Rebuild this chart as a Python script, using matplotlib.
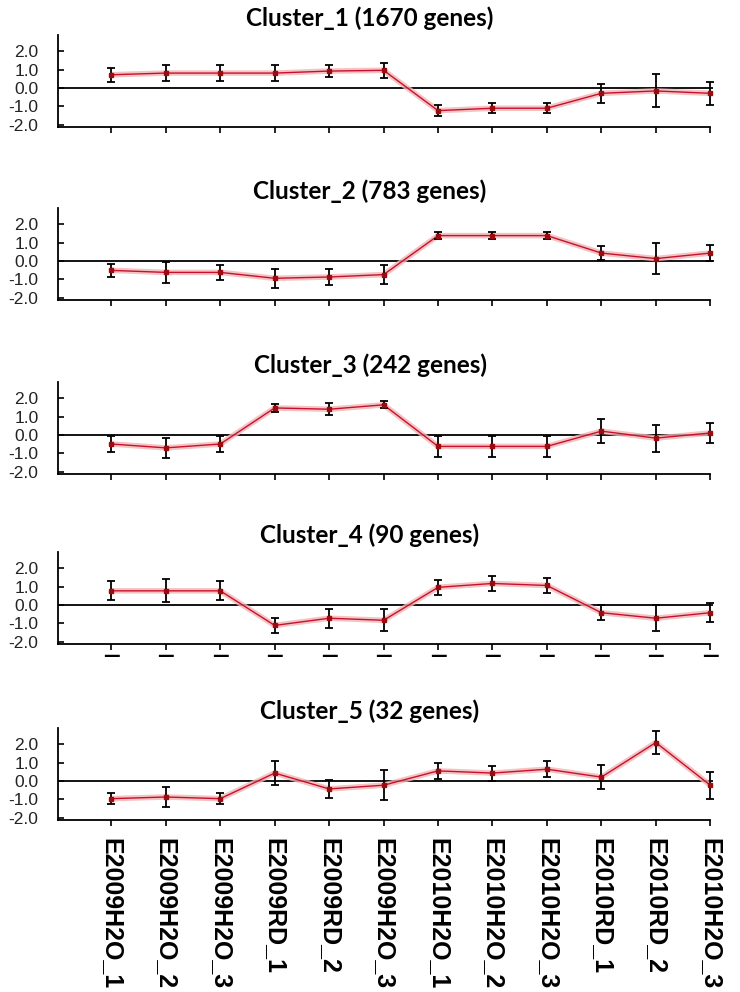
import matplotlib
matplotlib.use("Agg")
import matplotlib.pyplot as plt
import numpy as np

samples = ['E2009H2O_1', 'E2009H2O_2', 'E2009H2O_3', 'E2009RD_1', 'E2009RD_2', 'E2009H2O_3',
           'E2010H2O_1', 'E2010H2O_2', 'E2010H2O_3', 'E2010RD_1', 'E2010RD_2', 'E2010H2O_3']

titles = ['Cluster_1 (1670 genes)', 'Cluster_2 (783 genes)', 'Cluster_3 (242 genes)',
          'Cluster_4 (90 genes)', 'Cluster_5 (32 genes)']

c1_mean = [0.72, 0.81, 0.81, 0.81, 0.92, 0.96, -1.23, -1.10, -1.10, -0.29, -0.16, -0.29]
c1_err = [0.39, 0.42, 0.42, 0.42, 0.32, 0.42, 0.29, 0.28, 0.28, 0.50, 0.90, 0.61]
c2_mean = [-0.51, -0.62, -0.62, -0.94, -0.87, -0.74, 1.38, 1.38, 1.38, 0.43, 0.13, 0.43]
c2_err = [0.36, 0.56, 0.42, 0.53, 0.42, 0.52, 0.20, 0.20, 0.20, 0.40, 0.84, 0.42]
c3_mean = [-0.49, -0.70, -0.49, 1.47, 1.40, 1.64, -0.62, -0.62, -0.62, 0.21, -0.17, 0.11]
c3_err = [0.44, 0.53, 0.43, 0.24, 0.32, 0.20, 0.55, 0.55, 0.55, 0.64, 0.74, 0.53]
c4_mean = [0.77, 0.77, 0.77, -1.11, -0.72, -0.83, 0.96, 1.17, 1.06, -0.42, -0.72, -0.42]
c4_err = [0.52, 0.62, 0.52, 0.42, 0.52, 0.61, 0.42, 0.41, 0.42, 0.42, 0.72, 0.53]
c5_mean = [-0.96, -0.87, -0.96, 0.43, -0.43, -0.23, 0.55, 0.43, 0.64, 0.21, 2.09, -0.23]
c5_err = [0.31, 0.54, 0.31, 0.64, 0.51, 0.83, 0.42, 0.41, 0.42, 0.64, 0.63, 0.74]

means = [c1_mean, c2_mean, c3_mean, c4_mean, c5_mean]
errs = [c1_err, c2_err, c3_err, c4_err, c5_err]
yticks = [2.0, 1.0, 0.0, -1.0, -2.0]

W, H = 740, 992
fig = plt.figure(figsize=(W / 100, H / 100), dpi=100)

# zero line pixel rows of each panel (top of image = 0)
zero_px = [88, 261, 435, 605, 781]
x = np.arange(len(samples))

for i in range(5):
    bottom_px = zero_px[i] + 39
    ax = fig.add_axes([58 / W, 1 - bottom_px / H, 655 / W, 92 / H])
    ax.set_xlim(-0.98, 11.05)
    ax.set_ylim(-2.12, 2.88)
    for s in ['top', 'right']:
        ax.spines[s].set_visible(False)
    ax.spines['bottom'].set_bounds(-0.98, 11)
    ax.spines['left'].set_linewidth(1.3)
    ax.spines['bottom'].set_linewidth(1.3)

    ax.axhline(0, color='black', lw=1.3, zorder=1)

    # pink halo + red line
    ax.plot(x, means[i], color='#f2b5b5', lw=4, alpha=0.8, zorder=2, solid_capstyle='butt')
    ax.plot(x, means[i], color='#c8102e', lw=1.0, zorder=3)
    ax.errorbar(x, means[i], yerr=errs[i], fmt='none', ecolor='black',
                elinewidth=1.3, capsize=3, capthick=1.3, zorder=4)
    ax.plot(x, means[i], 's', color='#9e0b0f', ms=3.5, zorder=5)

    ax.set_yticks(yticks)
    ax.set_yticklabels(['%.1f' % v for v in yticks], fontsize=12.5,
                       family='Liberation Sans', color='#222222')
    ax.tick_params(axis='y', direction='in', length=4, width=1.2, pad=14)
    ax.set_xticks(x)
    ax.tick_params(axis='x', direction='out', length=4, width=1.2)
    if i == 4:
        ax.set_xticklabels(samples, rotation=-90, fontsize=18, fontweight='bold',
                           family='Liberation Sans', va='top', ha='center')
        ax.tick_params(axis='x', pad=9)
    elif i == 3:
        ax.set_xticklabels(['\u2014'] * len(samples), fontsize=12, fontweight='bold')
        ax.tick_params(axis='x', pad=-2)
    else:
        ax.set_xticklabels([])

    fig.text(0.5, 1 - (zero_px[i] - 70) / H, titles[i], ha='center', va='center',
             fontsize=17.5, fontweight='bold', family='Lato')

fig.savefig('out.png', dpi=100)
